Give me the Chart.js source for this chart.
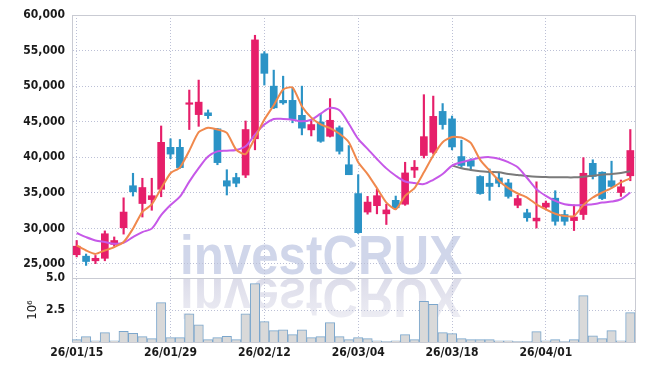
<!DOCTYPE html>
<html>
<head>
<meta charset="utf-8">
<script src="https://cdn.jsdelivr.net/npm/chart.js@4.4.1/dist/chart.umd.min.js"></script>
<style>
  html, body { margin: 0; padding: 0; background: #fff; }
</style>
</head>
<body>
<canvas id="priceChart" width="645" height="371"></canvas>
<script>
const dates = [
  "26/01/15", "26/01/16", "26/01/19", "26/01/20", "26/01/21", "26/01/22", "26/01/23", "26/01/26", "26/01/27", "26/01/28",
  "26/01/29", "26/01/30", "26/02/02", "26/02/03", "26/02/04", "26/02/05", "26/02/06", "26/02/09", "26/02/10", "26/02/11",
  "26/02/12", "26/02/13", "26/02/19", "26/02/20", "26/02/23", "26/02/24", "26/02/25", "26/02/26", "26/02/27", "26/03/03",
  "26/03/04", "26/03/05", "26/03/06", "26/03/09", "26/03/10", "26/03/11", "26/03/12", "26/03/13", "26/03/16", "26/03/17",
  "26/03/18", "26/03/19", "26/03/20", "26/03/23", "26/03/24", "26/03/25", "26/03/26", "26/03/27", "26/03/30", "26/03/31",
  "26/04/01", "26/04/02", "26/04/03", "26/04/06", "26/04/07", "26/04/08", "26/04/09", "26/04/10", "26/04/13", "26/04/14",
];

const opens = [
  26300, 26100, 25450, 25800, 27750, 30100, 36000, 33500, 34050, 35500,
  41400, 41400, 47450, 46000, 46250, 44000, 36700, 37150, 37500, 42600,
  54550, 50000, 48000, 48000, 45900, 43850, 44950, 42950, 44150, 38950,
  34900, 32300, 33200, 32050, 33950, 33400, 38200, 40250, 40700, 46450,
  45400, 40100, 39550, 37300, 36350, 37100, 36400, 33250, 32200, 31050,
  33000, 34250, 31950, 31100, 31950, 39150, 37900, 36700, 35050, 37400,
];
const highs = [
  28300, 26400, 26200, 29650, 28800, 34300, 37750, 37050, 37050, 44400,
  42600, 42500, 49450, 50850, 46650, 44050, 38250, 37750, 45100, 57150,
  54850, 52250, 51400, 49800, 50000, 45300, 46050, 48250, 44400, 41650,
  37550, 34500, 35500, 33400, 34550, 39300, 39550, 48800, 48600, 47550,
  45800, 42400, 39800, 37400, 38350, 37900, 36900, 34650, 32700, 36550,
  33850, 35300, 32550, 33300, 39950, 39650, 37950, 39450, 36800, 43900,
];
const lows = [
  26000, 24800, 25050, 25450, 27500, 29200, 34550, 31600, 32550, 34450,
  39800, 38450, 43900, 44350, 45450, 38950, 34700, 35850, 37150, 41050,
  50150, 46850, 47450, 44850, 43150, 43000, 42100, 42850, 40450, 37550,
  29300, 32000, 32050, 30550, 32700, 33250, 37150, 39900, 40450, 43950,
  41050, 38600, 38150, 34800, 33950, 35850, 34250, 32900, 31000, 30050,
  32800, 30450, 30450, 29700, 31250, 36950, 34050, 35750, 34500, 36700,
];
const closes = [
  27500, 25350, 25800, 29250, 28300, 32300, 35150, 35750, 34600, 42100,
  40450, 38550, 47650, 47750, 45850, 39250, 35950, 36350, 43900, 56500,
  51800, 46950, 47650, 45350, 44100, 44600, 42250, 45200, 40850, 37550,
  29400, 33700, 34600, 32600, 32900, 37800, 38600, 42900, 45750, 44600,
  41450, 38850, 38750, 34900, 35900, 36350, 34500, 34200, 31500, 31450,
  33550, 31000, 31000, 31600, 37750, 37300, 34200, 35900, 35850, 40950,
];

// moving averages
const ma5 = [
  27600, 26900, 26420, 26900, 27370, 28080, 29970, 32330, 33370, 35630,
  37760, 38560, 40920, 43520, 44140, 43900, 43430, 41060, 40450, 42720,
  45300, 47310, 49530, 49810, 47170, 45570, 44620, 44100, 43300, 42120,
  39290, 37640, 35660, 33630, 32690, 34580, 35660, 37880, 40240, 42120,
  42850, 42770, 42010, 39640, 38130, 36710, 35660, 34910, 34340, 33390,
  32680, 32060, 31730, 31730, 33290, 34340, 35050, 35660, 36470, 37040,
];
const ma10 = [
  29350, 28780, 28310, 28080, 27840, 27980, 28780, 29490, 29970, 31860,
  33280, 34460, 36580, 38470, 40120, 40830, 40920, 41020, 41540, 43190,
  44600, 45380, 45380, 45280, 45050, 45280, 46130, 46930, 46600, 44720,
  42590, 41180, 39760, 38440, 37400, 36600, 36370, 36230, 36840, 37640,
  38830, 39310, 39640, 39930, 40020, 39790, 39310, 38600, 37090, 35520,
  34570, 33860, 33390, 33250, 33290, 33390, 33630, 33770, 34100, 35050,
];
const maLong = [
  null, null, null, null, null, null, null, null, null, null,
  null, null, null, null, null, null, null, null, null, null,
  null, null, null, null, null, null, null, null, null, null,
  null, null, null, null, null, null, null, null, null, null,
  38840, 38460, 38220, 38030, 37940, 37890, 37650, 37510, 37370, 37270,
  37230, 37180, 37180, 37180, 37270, 37420, 37560, 37650, 37800, 38030,
];

// volume in millions
const volumes = [
  0.18, 0.42, 0.10, 0.73, 0.10, 0.83, 0.68, 0.42, 0.26, 3.07,
  0.34, 0.34, 2.21, 1.35, 0.18, 0.34, 0.44, 0.18, 2.21, 4.56,
  1.59, 0.89, 0.96, 0.57, 0.96, 0.34, 0.42, 1.51, 0.42, 0.18,
  0.34, 0.26, 0.10, 0.03, 0.10, 0.57, 0.18, 3.18, 2.94, 0.73,
  0.65, 0.26, 0.18, 0.18, 0.18, 0.10, 0.10, 0.03, 0.03, 0.81,
  0.10, 0.18, 0.03, 0.18, 3.62, 0.49, 0.26, 0.89, 0.10, 2.29,
];

const priceTicks = [25000, 30000, 35000, 40000, 45000, 50000, 55000, 60000];
const volumeTicks = [2.5, 5.0];
const dateTickIndexes = [0, 10, 20, 30, 40, 50];

const UP = "#e61f6a";
const DOWN = "#2b93c6";
const GRID = "#bcc0d6";
const FRAME = "#c9cbd3";
const FONT = "'DejaVu Sans Condensed', 'DejaVu Sans', sans-serif";
const tickFont = { family: FONT, size: 12, weight: "bold" };

const candleColors = opens.map((o, i) => (closes[i] >= o ? UP : DOWN));

const watermark = {
  id: "watermark",
  beforeDraw(chart) {
    const ctx = chart.ctx;
    const text = "investCRUX";
    ctx.save();
    ctx.font = "bold 56px 'Liberation Sans', Arial, sans-serif";
    ctx.textBaseline = "alphabetic";
    const sx = 282 / ctx.measureText(text).width;
    ctx.setTransform(sx, 0, 0, 1, 180, 274);
    ctx.fillStyle = "#d0d6ea";
    ctx.fillText(text, 0, 0);
    // mirrored reflection below
    ctx.setTransform(sx, 0, 0, -1, 180, 279);
    const g = ctx.createLinearGradient(0, 0, 0, -42);
    g.addColorStop(0, "rgba(218,218,232,0.95)");
    g.addColorStop(1, "rgba(218,218,232,0.45)");
    ctx.fillStyle = g;
    ctx.fillText(text, 0, 0);
    ctx.restore();
  },
};

const frame = {
  id: "frame",
  afterDraw(chart) {
    const { ctx, chartArea } = chart;
    const split = chart.scales.yv.top;
    ctx.save();
    ctx.strokeStyle = FRAME;
    ctx.lineWidth = 1;
    ctx.beginPath();
    ctx.moveTo(chartArea.left, chartArea.top + 0.5);
    ctx.lineTo(chartArea.right + 0.5, chartArea.top + 0.5);
    ctx.lineTo(chartArea.right + 0.5, chartArea.bottom);
    ctx.moveTo(chartArea.left, Math.round(split) + 0.5);
    ctx.lineTo(chartArea.right, Math.round(split) + 0.5);
    ctx.stroke();
    ctx.restore();
  },
};

function initChart() {
  const ctx = document.getElementById("priceChart").getContext("2d");

  new Chart(ctx, {
    type: "bar",
    data: {
      labels: dates,
      datasets: [
        {
          type: "line",
          data: ma5,
          borderColor: "#f0884c",
          borderWidth: 2,
          pointRadius: 0,
          tension: 0.2,
          yAxisID: "y",
          order: 0,
        },
        {
          type: "line",
          data: ma10,
          borderColor: "#c658e8",
          borderWidth: 2,
          pointRadius: 0,
          tension: 0.3,
          yAxisID: "y",
          order: 0,
        },
        {
          type: "line",
          data: maLong,
          borderColor: "#7a7a7a",
          borderWidth: 2,
          pointRadius: 0,
          tension: 0.3,
          yAxisID: "y",
          order: 0,
        },
        {
          data: opens.map((o, i) => [o, closes[i]]),
          backgroundColor: candleColors,
          barThickness: 7,
          minBarLength: 1.5,
          grouped: false,
          yAxisID: "y",
          order: 1,
        },
        {
          data: lows.map((l, i) => [l, highs[i]]),
          backgroundColor: candleColors,
          barThickness: 1.5,
          grouped: false,
          yAxisID: "y",
          order: 2,
        },
        {
          data: volumes,
          backgroundColor: "#d9d9d9",
          borderColor: "#7ba6cc",
          borderWidth: 1,
          barPercentage: 1,
          categoryPercentage: 1,
          grouped: false,
          yAxisID: "yv",
          order: 3,
        },
      ],
    },
    options: {
      responsive: false,
      animation: false,
      layout: { padding: { top: 15, right: 10, left: 0, bottom: 0 } },
      plugins: {
        legend: { display: false },
        tooltip: { enabled: false },
      },
      scales: {
        x: {
          offset: true,
          afterBuildTicks: (scale) => {
            scale.ticks = dateTickIndexes.map((i) => ({ value: i }));
          },
          afterFit: (scale) => {
            scale.height = 29;
          },
          ticks: {
            autoSkip: false,
            maxRotation: 0,
            padding: 4,
            color: "#1a1a1a",
            font: tickFont,
          },
          grid: { offset: false, drawTicks: false, color: GRID },
          border: { color: FRAME, dash: [1, 2] },
        },
        yv: {
          position: "left",
          stack: "panels",
          stackWeight: 64,
          min: 0,
          max: 5,
          afterBuildTicks: (scale) => {
            scale.ticks = volumeTicks.map((v) => ({ value: v }));
          },
          afterFit: (scale) => {
            scale.width = 72;
          },
          ticks: {
            padding: 7,
            color: "#1a1a1a",
            font: tickFont,
            callback: (v) => v.toFixed(1),
          },
          title: {
            display: true,
            text: "10\u2076",
            color: "#1a1a1a",
            font: { family: FONT, size: 13 },
            padding: { top: 25, bottom: 0 },
          },
          grid: { drawTicks: false, color: GRID },
          border: { color: FRAME, dash: [1, 2] },
        },
        y: {
          position: "left",
          stack: "panels",
          stackWeight: 263,
          min: 23030,
          max: 60000,
          afterBuildTicks: (scale) => {
            scale.ticks = priceTicks.map((v) => ({ value: v }));
          },
          afterFit: (scale) => {
            scale.width = 72;
          },
          ticks: {
            padding: 7,
            color: "#1a1a1a",
            font: tickFont,
            callback: (v) => v.toLocaleString("en-US"),
          },
          grid: { drawTicks: false, color: GRID },
          border: { color: FRAME, dash: [1, 2] },
        },
      },
    },
    plugins: [watermark, frame],
  });
}

document.addEventListener("DOMContentLoaded", initChart);
</script>
</body>
</html>
